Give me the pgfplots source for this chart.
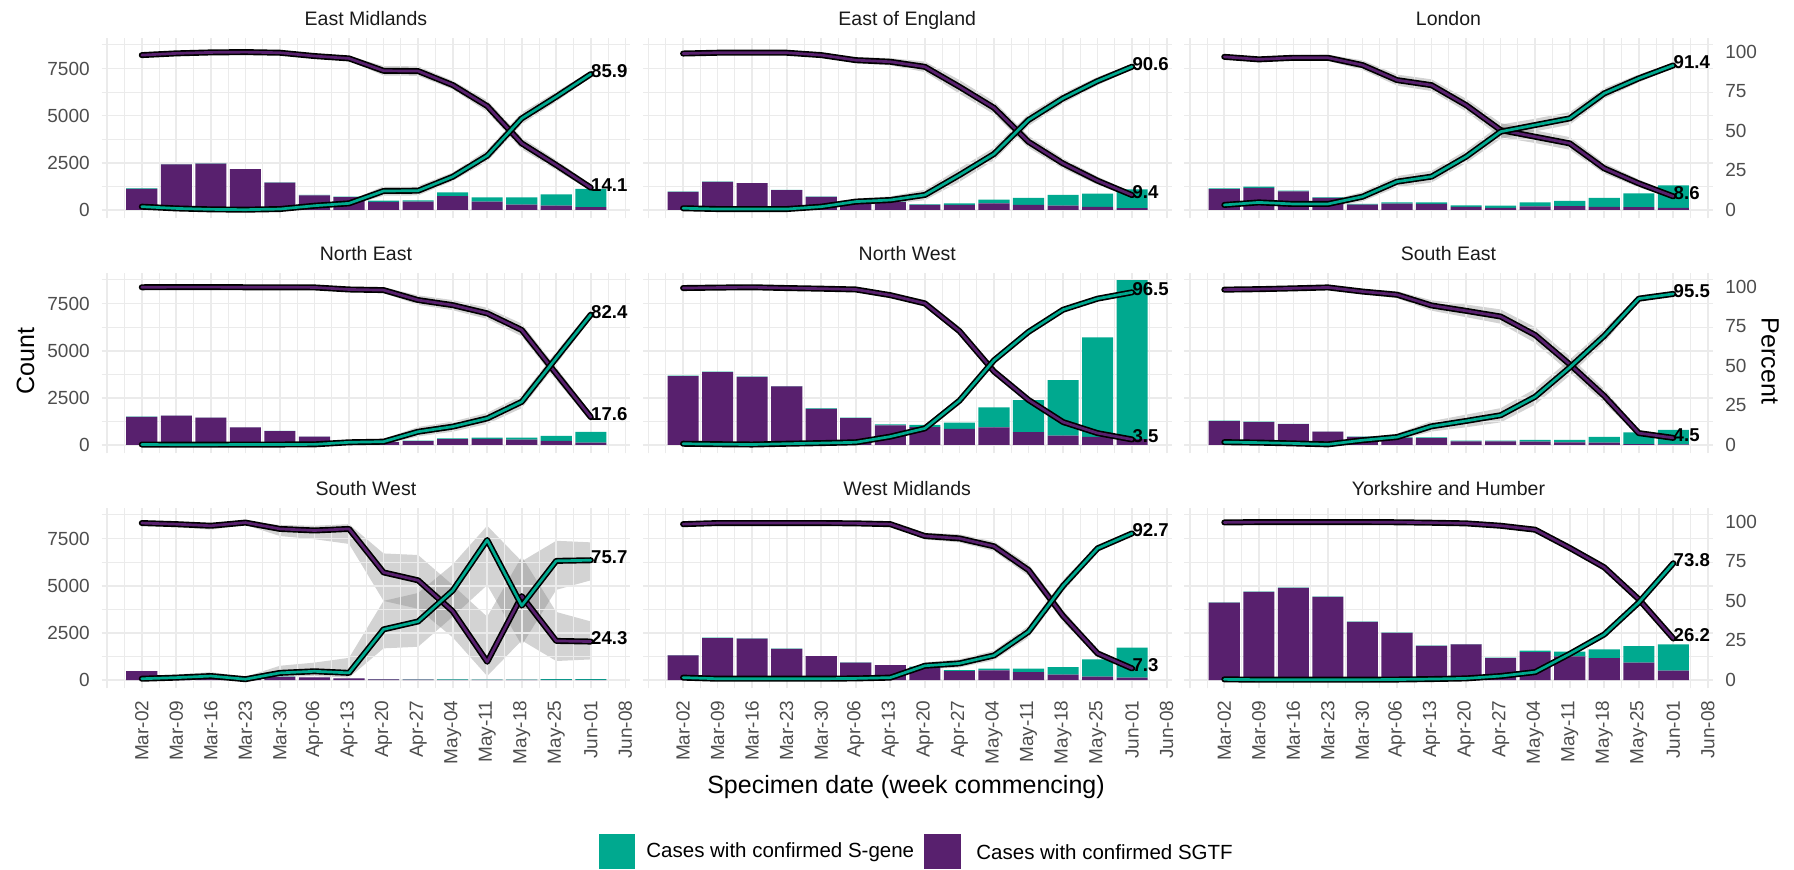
\documentclass[border=0pt]{standalone}
\usepackage{pgfplots}
\pgfplotsset{compat=1.18}
\usepackage{pgfplotstable}
\usepgfplotslibrary{fillbetween}
\usepackage{fontspec}
\setmainfont{Liberation Sans}

\definecolor{sgenec}{HTML}{00A98F}
\definecolor{sgtfc}{HTML}{58206E}
\definecolor{gridc}{HTML}{EBEBEB}
\definecolor{ticklab}{HTML}{4D4D4D}
\definecolor{striptx}{HTML}{1A1A1A}

\newcommand{\ticksize}{\fontsize{9.5pt}{11pt}\selectfont}
\newcommand{\stripsize}{\fontsize{9.75pt}{11pt}\selectfont}
\newcommand{\titlesize}{\fontsize{12.5pt}{14pt}\selectfont}
\newcommand{\legsize}{\fontsize{10.25pt}{12pt}\selectfont}
\newcommand{\lblsize}{\fontsize{9.3pt}{11pt}\selectfont\bfseries}

% columns: week index, SGTF count, S-gene count, % S-gene, % SGTF, CI of % S-gene
\pgfplotstableread{
x sgtf sgene gp pp glo ghi
0 1124 24 2.1 97.9 1.1 3.1
1 2413 24 1.0 99.0 0.5 1.5
2 2462 10 0.4 99.6 0.0 0.8
3 2168 4 0.2 99.8 0.0 0.6
4 1457 9 0.6 99.4 0.1 1.1
5 774 21 2.7 97.3 1.5 3.9
6 676 30 4.2 95.8 2.6 5.8
7 435 59 12.0 88.0 9.0 15.0
8 450 62 12.2 87.8 9.2 15.2
9 740 196 21.0 79.0 18.3 23.7
10 441 230 34.3 65.7 30.7 37.9
11 283 388 57.9 42.1 54.2 61.6
12 236 594 71.6 28.4 68.5 74.7
13 157 956 85.9 14.1 83.9 87.9
}\tEM
\pgfplotstableread{
x sgtf sgene gp pp glo ghi
0 960 11 1.1 98.9 0.3 1.9
1 1492 9 0.6 99.4 0.1 1.1
2 1421 9 0.6 99.4 0.1 1.1
3 1054 6 0.6 99.4 0.1 1.1
4 691 15 2.1 97.9 1.1 3.1
5 452 25 5.3 94.7 3.3 7.3
6 413 28 6.3 93.7 4.0 8.6
7 271 29 9.5 90.5 6.2 12.8
8 275 78 22.1 77.9 17.8 26.4
9 353 194 35.4 64.6 31.4 39.4
10 274 362 56.9 43.1 53.1 60.7
11 234 561 70.6 29.4 67.4 73.8
12 160 705 81.5 18.5 78.9 84.1
13 103 992 90.6 9.4 88.9 92.3
}\tEE
\pgfplotstableread{
x sgtf sgene gp pp glo ghi
0 1111 37 3.2 96.8 1.7 4.7
1 1177 59 4.8 95.2 3.1 6.5
2 985 39 3.8 96.2 2.1 5.5
3 645 26 3.8 96.2 1.8 5.8
4 291 27 8.4 91.6 5.4 11.4
5 333 73 17.9 82.1 14.4 21.4
6 320 86 21.1 78.9 17.4 24.8
7 164 83 33.7 66.3 29.7 37.7
8 116 114 49.5 50.5 45.0 54.0
9 188 218 53.7 46.3 49.7 57.7
10 201 276 57.9 42.1 53.9 61.9
11 167 469 73.7 26.3 70.4 77.0
12 148 735 83.2 16.8 80.7 85.7
13 112 1195 91.4 8.6 89.9 92.9
}\tLO
\pgfplotstableread{
x sgtf sgene gp pp glo ghi
0 1496 5 0.3 99.7 0.0 0.6
1 1551 3 0.2 99.8 0.0 0.5
2 1445 3 0.2 99.8 0.0 0.5
3 933 3 0.3 99.7 0.0 0.7
4 740 2 0.3 99.7 0.0 0.8
5 439 2 0.4 99.6 0.0 1.2
6 174 3 1.7 98.3 0.2 3.2
7 156 3 2.1 97.9 0.3 3.9
8 211 19 8.4 91.6 5.4 11.4
9 312 41 11.6 88.4 8.4 14.8
10 323 65 16.8 83.2 13.3 20.3
11 282 106 27.3 72.7 23.3 31.3
12 215 262 55.0 45.0 51.0 59.0
13 121 568 82.4 17.6 79.7 85.1
}\tNE
\pgfplotstableread{
x sgtf sgene gp pp glo ghi
0 3644 29 0.8 99.2 0.4 1.2
1 3866 19 0.5 99.5 0.2 0.8
2 3609 11 0.3 99.7 0.0 0.6
3 3101 25 0.8 99.2 0.4 1.2
4 1920 23 1.2 98.8 0.6 1.8
5 1423 25 1.7 98.3 0.9 2.5
6 1037 58 5.3 94.7 3.8 6.8
7 949 111 10.5 89.5 8.5 12.5
8 852 331 28.0 72.0 25.4 30.6
9 928 1068 53.5 46.5 51.3 55.7
10 679 1705 71.5 28.5 69.7 73.3
11 499 2945 85.5 14.5 84.3 86.7
12 428 5276 92.5 7.5 91.8 93.2
13 306 8436 96.5 3.5 96.1 96.9
}\tNW
\pgfplotstableread{
x sgtf sgene gp pp glo ghi
0 1266 23 1.8 98.2 1.0 2.6
1 1217 19 1.5 98.5 0.7 2.3
2 1102 11 1.0 99.0 0.3 1.7
3 703 3 0.4 99.6 0.0 1.0
4 428 13 3.0 97.0 1.5 4.5
5 380 20 5.0 95.0 2.8 7.2
6 358 48 11.8 88.2 8.5 15.1
7 195 35 15.2 84.8 11.2 19.2
8 187 43 18.8 81.2 14.3 23.3
9 184 81 30.5 69.5 25.5 35.5
10 135 130 49.0 51.0 44.0 54.0
11 131 293 69.0 31.0 64.7 73.3
12 50 621 92.5 7.5 90.5 94.5
13 36 759 95.5 4.5 94.0 97.0
}\tSE
\pgfplotstableread{
x sgtf sgene gp pp glo ghi
0 473 4 0.8 99.2 0.0 2.0
1 197 3 1.5 98.5 0.2 3.5
2 224 6 2.5 97.5 0.8 5.0
3 179 1 0.5 99.5 0.0 2.0
4 169 8 4.5 95.5 2.0 9.0
5 133 8 5.5 94.5 2.5 11.0
6 84 4 4.5 95.5 1.5 14.0
7 36 17 32.0 68.0 20.0 50.0
8 22 13 37.0 63.0 21.0 55.0
9 13 17 56.5 43.5 40.0 73.0
10 3 22 88.5 11.5 60.0 97.5
11 13 12 47.0 53.0 22.0 75.0
12 13 40 75.3 24.7 57.0 88.0
13 13 40 75.7 24.3 63.0 87.0
}\tSW
\pgfplotstableread{
x sgtf sgene gp pp glo ghi
0 1304 20 1.5 98.5 0.9 2.1
1 2225 18 0.8 99.2 0.4 1.2
2 2190 18 0.8 99.2 0.4 1.2
3 1647 13 0.8 99.2 0.4 1.2
4 1262 10 0.8 99.2 0.3 1.3
5 927 9 1.0 99.0 0.4 1.6
6 783 12 1.5 98.5 0.6 2.4
7 642 64 9.0 91.0 6.9 11.1
8 474 56 10.5 89.5 7.9 13.1
9 507 93 15.5 84.5 12.5 18.5
10 417 183 30.5 69.5 26.8 34.2
11 279 410 59.5 40.5 55.8 63.2
12 184 911 83.2 16.8 81.0 85.4
13 125 1588 92.7 7.3 91.5 93.9
}\tWM
\pgfplotstableread{
x sgtf sgene gp pp glo ghi
0 4099 16 0.4 99.6 0.1 0.7
1 4671 9 0.2 99.8 0.0 0.4
2 4882 10 0.2 99.8 0.0 0.4
3 4406 9 0.2 99.8 0.0 0.4
4 3084 6 0.2 99.8 0.0 0.4
5 2500 8 0.3 99.7 0.0 0.6
6 1808 11 0.6 99.4 0.2 1.0
7 1888 19 1.0 99.0 0.5 1.5
8 1153 30 2.5 97.5 1.5 3.5
9 1476 78 5.0 95.0 3.8 6.2
10 1253 248 16.5 83.5 14.5 18.5
11 1157 468 28.8 71.2 26.5 31.1
12 918 883 49.0 51.0 46.6 51.4
13 495 1395 73.8 26.2 71.7 75.9
}\tYH

\pgfplotsset{
  base/.style={scale only axis, width=264.25pt, height=90pt, anchor=south west,
    xmin=-1.16, xmax=14.14, axis line style={draw=none},
    major tick length=0pt, minor tick length=0pt,
    /pgf/number format/assume math mode=true, /pgf/number format/1000 sep={},
    tick label style={font=\ticksize, text=ticklab},
    xticklabel=\empty, yticklabel=\empty, no markers},
  countax/.style={base, ymin=-440, ymax=9100, ybar stacked, bar width=0.9,
    xtick={-1,0,...,14}, minor xtick={-0.5,0.5,...,13.5},
    ytick={0,2500,5000,7500}, minor ytick={1250,3750,6250,8750},
    grid=both, major grid style={gridc, line width=0.85pt},
    minor grid style={gridc, line width=0.45pt}},
  pctax/.style={base, ymin=-5.2475, ymax=108.527, xtick=\empty,
    ytick={0,25,50,75,100}, grid=none},
  xlab/.style={xticklabels={\empty,Mar-02,Mar-09,Mar-16,Mar-23,Mar-30,Apr-06,Apr-13,Apr-20,Apr-27,May-04,May-11,May-18,May-25,Jun-01,Jun-08},
    xticklabel style={rotate=90, anchor=east, inner sep=0pt}, xticklabel shift=6pt},
  ylabL/.style={yticklabel={\pgfmathprintnumber{\tick}},
    yticklabel style={anchor=east, inner sep=0pt}, yticklabel shift=5.8pt},
  ylabR/.style={yticklabel pos=right, yticklabel={\pgfmathprintnumber{\tick}},
    yticklabel style={anchor=west, inner sep=0pt}, yticklabel shift=6.1pt},
  ribbon/.style={fill=gray, fill opacity=0.35, draw=none},
}

% #1 x, #2 y, #3 table, #4 count-axis opts, #5 pct-axis opts, #6 title, #7 green label, #8 purple label
\newcommand{\panel}[8]{%
  \begin{axis}[countax, at={(#1,#2)}, #4]
    \addplot[fill=sgtfc, draw=none] table[x=x, y=sgtf]{#3};
    \addplot[fill=sgenec, draw=none] table[x=x, y=sgene]{#3};
  \end{axis}
  \begin{axis}[pctax, at={(#1,#2)}, #5]
    \addplot[name path=gl, draw=none] table[x=x, y=glo]{#3};
    \addplot[name path=gh, draw=none] table[x=x, y=ghi]{#3};
    \addplot[ribbon] fill between[of=gl and gh];
    \addplot[name path=pl, draw=none] table[x=x, y expr=100-\thisrow{ghi}]{#3};
    \addplot[name path=ph, draw=none] table[x=x, y expr=100-\thisrow{glo}]{#3};
    \addplot[ribbon] fill between[of=pl and ph];
    \addplot[black, line width=3pt, line join=round, line cap=round] table[x=x, y=pp]{#3};
    \addplot[sgtfc, line width=1.35pt, line join=round, line cap=round] table[x=x, y=pp]{#3};
    \addplot[black, line width=3pt, line join=round, line cap=round] table[x=x, y=gp]{#3};
    \addplot[sgenec, line width=1.35pt, line join=round, line cap=round] table[x=x, y=gp]{#3};
    \node[anchor=west, inner sep=0pt, yshift=1.5pt, font=\lblsize] at (axis cs:13,#7) {#7};
    \node[anchor=west, inner sep=0pt, yshift=1.5pt, font=\lblsize] at (axis cs:13,#8) {#8};
  \end{axis}
  \node[font=\stripsize, text=striptx, anchor=base] at (#1+132.125pt, #2+96.5pt) {#6};
}

\begin{document}
\begin{tikzpicture}
\panel{50.85pt}{325.35pt}{\tEM}{ylabL}{}{East Midlands}{85.9}{14.1}
\panel{321.5pt}{325.35pt}{\tEE}{}{}{East of England}{90.6}{9.4}
\panel{592.1pt}{325.35pt}{\tLO}{}{ylabR}{London}{91.4}{8.6}
\panel{50.85pt}{207.85pt}{\tNE}{ylabL}{}{North East}{82.4}{17.6}
\panel{321.5pt}{207.85pt}{\tNW}{}{}{North West}{96.5}{3.5}
\panel{592.1pt}{207.85pt}{\tSE}{}{ylabR}{South East}{95.5}{4.5}
\panel{50.85pt}{90.35pt}{\tSW}{ylabL,xlab}{}{South West}{75.7}{24.3}
\panel{321.5pt}{90.35pt}{\tWM}{xlab}{}{West Midlands}{92.7}{7.3}
\panel{592.1pt}{90.35pt}{\tYH}{xlab}{ylabR}{Yorkshire and Humber}{73.8}{26.2}

\node[font=\titlesize, rotate=90] at (12.75pt, 254pt) {Count};
\node[font=\titlesize, rotate=-90] at (885pt, 254pt) {Percent};
\node[font=\titlesize] at (453pt, 41pt) {Specimen date (week commencing)};

\fill[sgenec] (299.5pt,0pt) rectangle (317.5pt,17.5pt);
\node[font=\legsize, anchor=west, inner sep=0pt] at (323pt,8.5pt) {Cases with confirmed S-gene};
\fill[sgtfc] (462pt,0pt) rectangle (480.5pt,17.5pt);
\node[font=\legsize, anchor=west, inner sep=0pt] at (488pt,8.5pt) {Cases with confirmed SGTF};

\pgfresetboundingbox
\useasboundingbox (0,0) rectangle (897pt,434.5pt);
\end{tikzpicture}
\end{document}
